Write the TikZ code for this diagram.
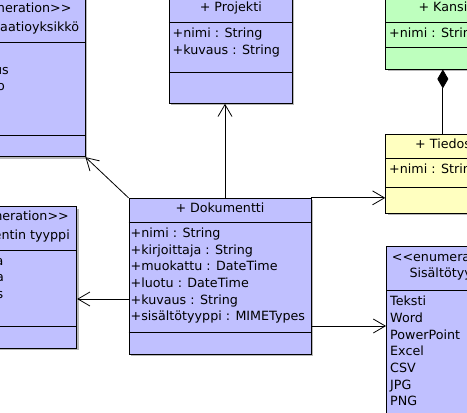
\documentclass[tikz,border=0pt]{standalone}
\usepackage{fontspec}
\setmainfont{DejaVu Sans}
\usetikzlibrary{arrows.meta,fit,shadows}

\definecolor{classblue}{RGB}{192,192,255}
\definecolor{classgreen}{RGB}{190,255,190}
\definecolor{classyellow}{RGB}{255,255,192}
\newcommand{\umlfont}{\fontsize{12.7}{15}\selectfont}
\newcommand{\stereo}{<{}<enumeration>{}>}

\tikzset{
  umlbox/.style={draw, line width=0.9pt, inner sep=0pt,
    general shadow={fill=black!28, shadow xshift=2pt, shadow yshift=-2pt}},
  part/.style={line width=0.9pt},
  umltext/.style={anchor=base west, inner sep=0pt, font=\umlfont},
  assoc/.style={line width=0.8pt, -{Straight Barb[length=12pt,width=14pt]}}
}

\begin{document}
\begin{tikzpicture}[x=1pt,y=-1pt]
\useasboundingbox (0,0) rectangle (467,413);
\clip (0,0) rectangle (467,413);

% class boxes
\node[umlbox, fill=classblue, fit={(-90,-30) (85,156.7)}] (org) {};
\node[umlbox, fill=classblue, fit={(169.3,-30) (292.3,103.3)}] (proj) {};
\node[umlbox, fill=classgreen, fit={(385.7,-30) (500,69)}] (kansio) {};
\node[umlbox, fill=classyellow, fit={(385.7,134.3) (500,213.3)}] (tied) {};
\node[umlbox, fill=classblue, fit={(129,198.3) (311,354)}] (dok) {};
\node[umlbox, fill=classblue, fit={(-90,206.7) (76.7,348)}] (tyyppi) {};
\node[umlbox, fill=classblue, fit={(386.5,246.7) (520,440)}] (sis) {};

% compartments
\foreach \n/\y in {org/42.3, org/135.3, proj/22.7, proj/72.3, kansio/22.7,
    kansio/47.7, tied/158.7, tied/187.3, dok/222.3, dok/332,
    tyyppi/250.7, tyyppi/326.5, sis/290}
  \draw[part] (\n.west |- 0,\y) -- (\n.east |- 0,\y);

% names
\node[umltext, anchor=base east] (org-s) at (71.7,12.7) {\stereo};
\node[umltext, anchor=base east] (org-t) at (79.3,31.7) {Organisaatioyksikkö};
\node[umltext, anchor=base] (proj-t) at (230.8,11.7) {+ Projekti};
\node[umltext] (kansio-t) at (418.3,11.7) {+ Kansio};
\node[umltext] (tied-t) at (415,148.3) {+ Tiedosto};
\node[umltext, anchor=base] (dok-t) at (220,212.3) {+ Dokumentti};
\node[umltext, anchor=base east] (tyyppi-s) at (69,220.7) {\stereo};
\node[umltext, anchor=base east] (tyyppi-t) at (70,239.3) {Dokumentin tyyppi};
\node[umltext] (sis-s) at (391.7,261.7) {\stereo};
\node[umltext] (sis-t) at (409.3,277.3) {Sisältötyyppi};

% attributes and literals
\node[umltext, anchor=base east] (org-a) at (9,74) {us};
\node[umltext, anchor=base east] (org-b) at (5,90.7) {o};
\foreach \t [count=\i from 0] in {+nimi : String, +kuvaus : String}
  \node[umltext] (proj-\i) at (172.5,37.3+17*\i) {\t};
\node[umltext] (kansio-a) at (389,37.3) {+nimi : String};
\node[umltext] (tied-a) at (389,173.3) {+nimi : String};
\foreach \t [count=\i from 0] in {+nimi : String, +kirjoittaja : String,
    +muokattu : DateTime, +luotu : DateTime, +kuvaus : String,
    +sisältötyyppi : MIMETypes}
  \node[umltext] (dok-\i) at (130.5,237.3+16.7*\i) {\t};
\foreach \t/\x [count=\i from 0] in {a/3.5, a/4, s/3.5}
  \node[umltext, anchor=base east] (tyyppi-\i) at (\x,265+16.7*\i) {\t};
\foreach \t [count=\i from 0] in {Teksti, Word, PowerPoint, Excel, CSV, JPG, PNG}
  \node[umltext] (sis-\i) at (390,305.7+16.7*\i) {\t};

% connectors
\draw[assoc] ([xshift=5pt]dok.north) -- ([xshift=5pt]dok.north |- proj.south);
\draw[assoc] (dok.north west) -- (org.south east);
\draw[assoc] (dok.north east) -- (dok.north east -| tied.west);
\draw[assoc] (dok.west |- 0,299) -- (tyyppi.east |- 0,299);
\draw[assoc] (dok.east |- 0,326) -- (sis.west |- 0,326);
\draw[line width=0.8pt, -{Diamond[length=19pt,width=11pt]}] (tied.north) -- (kansio.south);
\end{tikzpicture}
\end{document}
